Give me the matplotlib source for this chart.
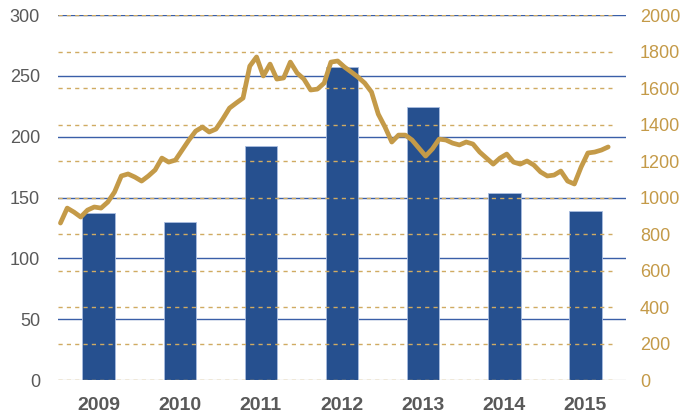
import matplotlib
matplotlib.use("Agg")
import matplotlib.pyplot as plt
import numpy as np

plt.rcParams['font.family'] = ['Liberation Sans', 'DejaVu Sans']

## Data
years = ['2009', '2010', '2011', '2012', '2013', '2014', '2015']
bar_vals = [137, 130, 192, 257, 224, 154, 139]

# monthly line values (right axis), Jan 2009 .. Oct 2015
line_vals = [860, 942, 920, 893, 931, 948, 942, 975, 1030, 1118, 1129, 1112,
             1090, 1118, 1151, 1216, 1194, 1205, 1260, 1315, 1364, 1386, 1359, 1375,
             1430, 1490, 1518, 1545, 1720, 1770, 1666, 1731, 1649, 1655, 1742, 1682,
             1649, 1589, 1594, 1627, 1742, 1748, 1715, 1688, 1660, 1627, 1578, 1457,
             1386, 1304, 1342, 1342, 1315, 1271, 1227, 1266, 1320, 1315, 1298, 1288,
             1304, 1293, 1249, 1216, 1183, 1216, 1238, 1194, 1183, 1200, 1178, 1140,
             1118, 1123, 1145, 1090, 1074, 1167, 1244, 1249, 1260, 1277]

left_ticks = [0, 50, 100, 150, 200, 250, 300]
right_ticks = [0, 200, 400, 600, 800, 1000, 1200, 1400, 1600, 1800, 2000]

BLUE = '#26508f'
GRID_BLUE = '#3a5fa8'
GOLD = '#c49a48'
DASH_GOLD = '#d0ab62'
GRAY = '#595959'

fig = plt.figure(figsize=(6.85, 4.18), dpi=100)
ax = fig.add_axes([0.0847, 0.0909, 0.8292, 0.8732])
ax2 = ax.twinx()

x = np.arange(len(years))

## blue grid behind bars
for v in left_ticks[1:]:
    ax.axhline(v, color=GRID_BLUE, lw=1.0, zorder=0)
ax.axhline(0, color='#d9d9d9', lw=1.0, zorder=0)

ax.bar(x, bar_vals, width=0.4, color=BLUE, edgecolor='#a9bde0', linewidth=0.6, zorder=2)

ax.set_xlim(-0.5, 6.5)
ax.set_ylim(0, 300)
ax.set_yticks(left_ticks)
ax.set_xticks(x)
ax.set_xticklabels(years, fontsize=14, fontweight='bold', color=GRAY)
ax.tick_params(axis='x', length=0, pad=12)
ax.tick_params(axis='y', length=0, pad=13, labelsize=13, labelcolor=GRAY)

## dashed gold grid in front of the bars
for v in right_ticks:
    ax2.axhline(v, xmin=0, xmax=0.975, color=DASH_GOLD, lw=1.0,
                dashes=(3, 3), zorder=1)

t = -0.47 + np.arange(len(line_vals)) / 12.0
ax2.plot(t, line_vals, color=GOLD, lw=3.4, solid_joinstyle='round',
         solid_capstyle='round', zorder=3)

ax2.set_ylim(0, 2000)
ax2.set_yticks(right_ticks)
ax2.tick_params(axis='y', length=0, pad=10, labelsize=13, labelcolor=GOLD)

for a in (ax, ax2):
    for s in a.spines.values():
        s.set_visible(False)

fig.savefig('out.png', dpi=100)
